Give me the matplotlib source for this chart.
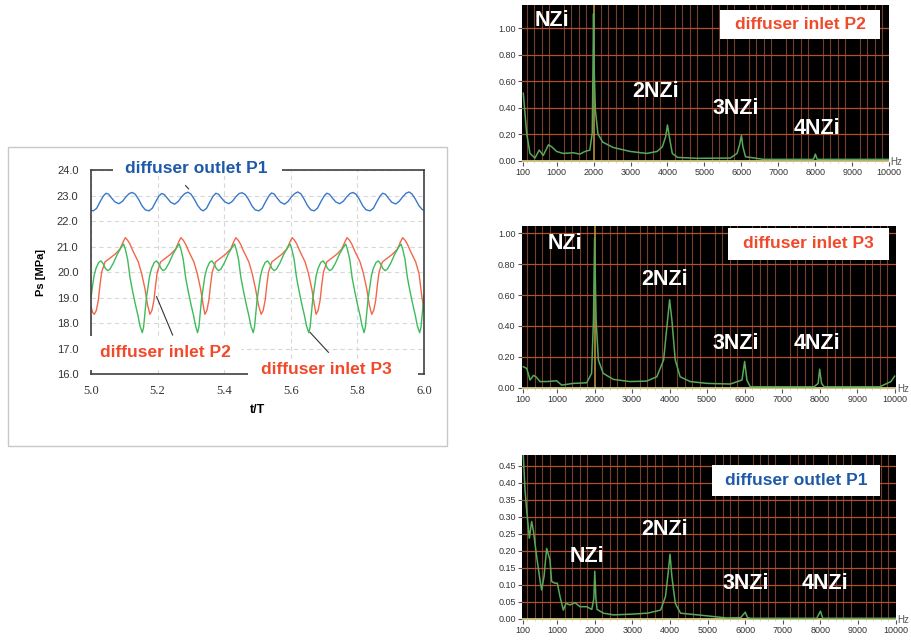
import matplotlib.pyplot as plt
from matplotlib.patches import Rectangle

plt.rcParams['font.family'] = ['Liberation Sans', 'DejaVu Sans']

# ---- pressure history (t/T, Ps in MPa) ----
t_p1 = [5.000, 5.007, 5.017, 5.027, 5.037, 5.045, 5.053, 5.062, 5.072, 5.084, 5.095, 5.105,
        5.115, 5.124, 5.133, 5.143, 5.153, 5.163,
        5.174, 5.184, 5.194, 5.204, 5.212, 5.220, 5.229, 5.239, 5.251, 5.262, 5.272,
        5.282, 5.291, 5.300, 5.310, 5.320, 5.330,
        5.337, 5.347, 5.357, 5.367, 5.375, 5.383, 5.392, 5.402, 5.414, 5.425, 5.435,
        5.445, 5.454, 5.463, 5.473, 5.483, 5.493,
        5.504, 5.514, 5.524, 5.534, 5.542, 5.550, 5.559, 5.569, 5.581, 5.592, 5.602,
        5.612, 5.621, 5.630, 5.640, 5.650, 5.660,
        5.670, 5.680, 5.690, 5.700, 5.708, 5.716, 5.725, 5.735, 5.747, 5.758, 5.768,
        5.778, 5.787, 5.796, 5.806, 5.816, 5.826,
        5.838, 5.848, 5.858, 5.868, 5.876, 5.884, 5.893, 5.903, 5.915, 5.926, 5.936,
        5.946, 5.955, 5.964, 5.974, 5.984, 5.994, 6.000]
ps_p1 = [22.42, 22.40, 22.50, 22.75, 22.98, 23.09, 23.05, 22.90, 22.75, 22.68, 22.78, 22.95,
         23.08, 23.12, 23.05, 22.85, 22.60, 22.44,
         22.40, 22.50, 22.75, 22.98, 23.08, 23.04, 22.90, 22.74, 22.66, 22.77, 22.95,
         23.08, 23.13, 23.06, 22.86, 22.62, 22.45,
         22.40, 22.50, 22.75, 22.98, 23.09, 23.05, 22.90, 22.75, 22.68, 22.78, 22.95,
         23.08, 23.11, 23.04, 22.85, 22.60, 22.44,
         22.40, 22.50, 22.75, 22.98, 23.10, 23.06, 22.90, 22.74, 22.66, 22.77, 22.95,
         23.08, 23.14, 23.07, 22.86, 22.61, 22.44,
         22.40, 22.50, 22.75, 22.98, 23.09, 23.05, 22.90, 22.75, 22.68, 22.78, 22.95,
         23.08, 23.12, 23.05, 22.85, 22.60, 22.44,
         22.40, 22.50, 22.75, 22.98, 23.09, 23.05, 22.90, 22.74, 22.67, 22.78, 22.95,
         23.09, 23.14, 23.06, 22.86, 22.62, 22.46, 22.42]

t_p2 = [5.000, 5.005,
        5.010, 5.016, 5.022, 5.027, 5.032, 5.042, 5.057, 5.072, 5.087, 5.097, 5.103, 5.110,
        5.117, 5.127, 5.142, 5.152, 5.162, 5.170,
        5.177, 5.183, 5.189, 5.194, 5.199, 5.209, 5.224, 5.239, 5.254, 5.264, 5.270, 5.277,
        5.284, 5.294, 5.309, 5.319, 5.329, 5.337,
        5.342, 5.348, 5.354, 5.359, 5.364, 5.374, 5.389, 5.404, 5.419, 5.429, 5.435, 5.442,
        5.449, 5.459, 5.474, 5.484, 5.494, 5.503,
        5.511, 5.517, 5.523, 5.528, 5.533, 5.543, 5.558, 5.573, 5.588, 5.598, 5.604, 5.611,
        5.618, 5.628, 5.643, 5.653, 5.663, 5.671,
        5.676, 5.682, 5.688, 5.693, 5.698, 5.708, 5.723, 5.738, 5.753, 5.763, 5.769, 5.776,
        5.783, 5.793, 5.808, 5.818, 5.828, 5.836,
        5.843, 5.849, 5.855, 5.860, 5.865, 5.875, 5.890, 5.905, 5.920, 5.930, 5.936, 5.943,
        5.950, 5.960, 5.975, 5.985, 5.993, 6.000]
ps_p2 = [18.65, 18.42,
         18.35, 18.50, 18.90, 19.50, 20.00, 20.40, 20.55, 20.70, 20.90, 21.20, 21.35, 21.25,
         21.10, 20.80, 20.40, 19.95, 19.35, 18.70,
         18.35, 18.50, 18.90, 19.50, 20.00, 20.40, 20.55, 20.70, 20.90, 21.20, 21.35, 21.25,
         21.10, 20.80, 20.40, 19.95, 19.35, 18.70,
         18.35, 18.50, 18.90, 19.50, 20.00, 20.40, 20.55, 20.70, 20.90, 21.20, 21.35, 21.25,
         21.10, 20.80, 20.40, 19.95, 19.35, 18.70,
         18.35, 18.50, 18.90, 19.50, 20.00, 20.40, 20.55, 20.70, 20.90, 21.20, 21.35, 21.25,
         21.10, 20.80, 20.40, 19.95, 19.35, 18.70,
         18.35, 18.50, 18.90, 19.50, 20.00, 20.40, 20.55, 20.70, 20.90, 21.20, 21.35, 21.25,
         21.10, 20.80, 20.40, 19.95, 19.35, 18.70,
         18.35, 18.50, 18.90, 19.50, 20.00, 20.40, 20.55, 20.70, 20.90, 21.20, 21.35, 21.25,
         21.10, 20.80, 20.40, 19.95, 19.10, 18.45]

t_p3 = [5.000, 5.004, 5.009, 5.015, 5.023, 5.030, 5.037, 5.043, 5.050, 5.057, 5.067, 5.079,
        5.091, 5.098, 5.103, 5.110, 5.117, 5.125, 5.133, 5.141, 5.147,
        5.154, 5.158, 5.162, 5.166, 5.171, 5.176, 5.182, 5.190, 5.197, 5.204, 5.210, 5.217,
        5.224, 5.234, 5.246, 5.258, 5.265, 5.270, 5.277, 5.284, 5.292, 5.300, 5.308, 5.314,
        5.320, 5.324, 5.328, 5.332, 5.337, 5.342, 5.348, 5.356, 5.363, 5.370, 5.376, 5.383,
        5.390, 5.400, 5.412, 5.424, 5.431, 5.436, 5.443, 5.450, 5.458, 5.466, 5.474, 5.480,
        5.487, 5.491, 5.495, 5.499, 5.504, 5.509, 5.515, 5.523, 5.530, 5.537, 5.543, 5.550,
        5.557, 5.567, 5.579, 5.591, 5.598, 5.603, 5.610, 5.617, 5.625, 5.633, 5.641, 5.647,
        5.654, 5.658, 5.662, 5.666, 5.671, 5.676, 5.682, 5.690, 5.697, 5.704, 5.710, 5.717,
        5.724, 5.734, 5.746, 5.758, 5.765, 5.770, 5.777, 5.784, 5.792, 5.800, 5.808, 5.814,
        5.820, 5.824, 5.828, 5.832, 5.837, 5.842, 5.848, 5.856, 5.863, 5.870, 5.876, 5.883,
        5.890, 5.900, 5.912, 5.924, 5.931, 5.936, 5.943, 5.950, 5.958, 5.966, 5.974, 5.980,
        5.987, 5.991, 5.995, 6.000]
ps_p3 = [19.00, 19.40, 19.85, 20.15, 20.38, 20.44, 20.32, 20.15, 20.06, 20.12, 20.35, 20.70,
         20.98, 21.10, 20.90, 20.50, 19.80, 19.25, 18.75, 18.30, 17.90,
         17.63, 17.85, 18.40, 18.95, 19.40, 19.85, 20.15, 20.38, 20.44, 20.32, 20.15, 20.06,
         20.12, 20.35, 20.70, 20.98, 21.10, 20.90, 20.50, 19.80, 19.25, 18.75, 18.30, 17.90,
         17.63, 17.85, 18.40, 18.95, 19.40, 19.85, 20.15, 20.38, 20.44, 20.32, 20.15, 20.06,
         20.12, 20.35, 20.70, 20.98, 21.10, 20.90, 20.50, 19.80, 19.25, 18.75, 18.30, 17.90,
         17.63, 17.85, 18.40, 18.95, 19.40, 19.85, 20.15, 20.38, 20.44, 20.32, 20.15, 20.06,
         20.12, 20.35, 20.70, 20.98, 21.10, 20.90, 20.50, 19.80, 19.25, 18.75, 18.30, 17.90,
         17.63, 17.85, 18.40, 18.95, 19.40, 19.85, 20.15, 20.38, 20.44, 20.32, 20.15, 20.06,
         20.12, 20.35, 20.70, 20.98, 21.10, 20.90, 20.50, 19.80, 19.25, 18.75, 18.30, 17.90,
         17.63, 17.85, 18.40, 18.95, 19.40, 19.85, 20.15, 20.38, 20.44, 20.32, 20.15, 20.06,
         20.12, 20.35, 20.70, 20.98, 21.10, 20.90, 20.50, 19.80, 19.25, 18.75, 18.30, 17.90,
         17.63, 17.85, 18.40, 19.10]

# ---- spectra (Hz, amplitude) ----
hz_p2 = [100, 190, 280, 415, 530, 640, 780, 870, 1000, 1180, 1450, 1630, 1770, 1900, 1965,
         1985, 2000, 2015, 2050, 2120, 2250, 2530, 2990, 3440, 3720, 3860, 3950, 4000, 4050,
         4130, 4270, 4800, 5700, 5880, 5950, 6000, 6040, 6110, 6600, 7950, 8000, 8050, 10000]
amp_p2 = [0.51, 0.21, 0.055, 0.02, 0.08, 0.04, 0.12, 0.105, 0.07, 0.055, 0.06, 0.05, 0.07,
          0.08, 0.21, 0.71, 1.11, 0.71, 0.38, 0.20, 0.14, 0.10, 0.07, 0.055, 0.07, 0.105,
          0.18, 0.27, 0.18, 0.055, 0.025, 0.018, 0.02, 0.055, 0.12, 0.19, 0.105, 0.03, 0.01,
          0.01, 0.05, 0.01, 0.01]

hz_p3 = [100, 190, 280, 370, 440, 545, 720, 990, 1120, 1430, 1790, 1920, 1970, 2000, 2040,
         2100, 2230, 2500, 2940, 3390, 3660, 3840, 3930, 4000, 4060, 4150, 4280, 4550, 5000,
         5620, 5930, 6000, 6060, 6150, 7850, 7960, 8000, 8050, 8120, 9600, 9900, 10000]
amp_p3 = [0.136, 0.125, 0.05, 0.08, 0.07, 0.04, 0.04, 0.045, 0.017, 0.028, 0.032, 0.093,
          0.44, 0.97, 0.44, 0.18, 0.093, 0.054, 0.04, 0.043, 0.071, 0.18, 0.40, 0.57, 0.44,
          0.18, 0.071, 0.04, 0.028, 0.024, 0.05, 0.17, 0.05, 0.006, 0.006, 0.028, 0.12,
          0.028, 0.006, 0.006, 0.04, 0.075]

hz_p1 = [100, 144, 189, 260, 322, 366, 455, 543, 587, 650, 720, 809, 853, 942, 1004, 1075,
         1164, 1234, 1340, 1474, 1607, 1784, 1920, 1975, 2000, 2030, 2060, 2230, 2500, 2950,
         3400, 3750, 3880, 3950, 4000, 4050, 4140, 4280, 5000, 5500, 5880, 6000, 6060, 6150,
         7900, 8000, 8060, 10000]
amp_p1 = [0.48, 0.38, 0.32, 0.237, 0.286, 0.26, 0.183, 0.114, 0.085, 0.124, 0.207, 0.173,
          0.11, 0.105, 0.105, 0.066, 0.026, 0.046, 0.041, 0.048, 0.036, 0.036, 0.028, 0.06,
          0.14, 0.06, 0.028, 0.017, 0.012, 0.014, 0.017, 0.026, 0.066, 0.134, 0.19, 0.124,
          0.046, 0.017, 0.009, 0.003, 0.004, 0.02, 0.004, 0.002, 0.002, 0.023, 0.002, 0.002]

hz_ticks = [100, 1000, 2000, 3000, 4000, 5000, 6000, 7000, 8000, 9000, 10000]

BLUE = '#1f5aa8'
RED = '#f04a2a'
W, H = 911, 641


def rect(x0, y0, x1, y1):
    return [x0 / W, 1 - y1 / H, (x1 - x0) / W, (y1 - y0) / H]


fig = plt.figure(figsize=(W / 100, H / 100), dpi=100)
fig.patch.set_facecolor('white')

# frame around the left plot
fig.add_artist(Rectangle((8 / W, 1 - 446 / H), 439 / W, 299 / H, transform=fig.transFigure,
                         fill=False, ec='#c8c8c8', lw=1))

ax = fig.add_axes(rect(91, 170, 424, 374.3))
ax.plot(t_p1, ps_p1, color='#3a78c8', lw=1.0)
ax.plot(t_p2, ps_p2, color='#f2674a', lw=1.0)
ax.plot(t_p3, ps_p3, color='#3dbb5a', lw=1.0)
ax.set_xlim(5.0, 6.0)
ax.set_ylim(16.0, 24.0)
ax.set_xticks([5.0, 5.2, 5.4, 5.6, 5.8, 6.0])
ax.set_yticks([16, 17, 18, 19, 20, 21, 22, 23, 24])
ax.set_yticklabels(['%.1f' % v for v in ax.get_yticks()])
ax.set_xticklabels(['%.1f' % v for v in ax.get_xticks()], family='Liberation Serif', fontsize=9)
ax.tick_params(axis='y', length=0, pad=9, labelsize=8, colors='#333333')
ax.tick_params(axis='x', length=0, pad=8, colors='#333333')
ax.grid(True, ls=(0, (4, 3)), color='#d8d8d8', lw=0.8)
for s in ax.spines.values():
    s.set_color('#404040')
    s.set_linewidth(1.2)
ax.set_xlabel('t/T', fontweight='bold', fontsize=9, labelpad=5)
ax.set_ylabel('Ps [MPa]', fontweight='bold', fontsize=8, labelpad=8)

# white patches behind the labels cut the frame like in the original
for x0, x1, y0, y1 in [(5.066, 5.574, 23.75, 24.35), (4.97, 5.45, 16.17, 17.5),
                       (5.471, 5.982, 15.6, 16.6)]:
    ax.add_patch(Rectangle((x0, y0), x1 - x0, y1 - y0, fc='white', ec='none',
                           clip_on=False, zorder=4))
ax.text(5.317, 24.04, 'diffuser outlet P1', color=BLUE, fontsize=12.5, fontweight='bold',
        ha='center', va='center', zorder=5)
ax.text(5.225, 16.87, 'diffuser inlet P2', color=RED, fontsize=12.5, fontweight='bold',
        ha='center', va='center', zorder=5)
ax.text(5.706, 16.17, 'diffuser inlet P3', color=RED, fontsize=12.5, fontweight='bold',
        ha='center', va='center', zorder=5)
ax.plot([5.284, 5.293], [23.39, 23.26], color='#333333', lw=0.8)
ax.plot([5.197, 5.245], [19.04, 17.54], color='#333333', lw=0.8, clip_on=False)
ax.plot([5.658, 5.713], [17.64, 16.86], color='#333333', lw=0.8, clip_on=False, zorder=6)


def spectrum(box, xlim, ylim, yticks, hz, amp, cursor):
    sx = fig.add_axes(rect(*box))
    sx.set_facecolor('black')
    sx.set_xlim(*xlim)
    sx.set_ylim(*ylim)
    sx.set_xticks(hz_ticks)
    sx.set_xticks(list(range(200, 10001, 200)), minor=True)
    sx.set_yticks(yticks)
    sx.set_yticklabels(['%.2f' % v for v in yticks])
    sx.grid(True, which='minor', axis='x', color='#74402a', lw=0.8)
    sx.grid(True, which='major', axis='y', color='#b0502e', lw=0.9)
    for s in sx.spines.values():
        s.set_visible(False)
    sx.tick_params(axis='both', which='major', labelsize=6.5, colors='#555555',
                   labelcolor='#333333', length=3, width=0.8, pad=1.5)
    sx.tick_params(axis='x', which='minor', length=2, color='#d8d890', direction='inout')
    if cursor:
        sx.axvline(2000, color='#c89a40', lw=1.1, zorder=2)
    sx.axhline(0, color='#d8d890', lw=1.2, zorder=2)
    sx.plot(hz, amp, color='#5aa85a', lw=1.1, zorder=3)
    sx.text(1.003, 0.0, 'Hz', transform=sx.transAxes, fontsize=7, color='#555555',
            va='center', ha='left', clip_on=False)
    return sx


spectrum((522.3, 5, 889.3, 161.7), (73, 10000), (-0.0075, 1.176),
         [0.0, 0.2, 0.4, 0.6, 0.8, 1.0], hz_p2, amp_p2, True)
spectrum((521.7, 226, 896.0, 388.5), (57, 10035), (-0.005, 1.047),
         [0.0, 0.2, 0.4, 0.6, 0.8, 1.0], hz_p3, amp_p3, True)
spectrum((522.3, 455, 895.7, 620), (73, 10000), (-0.003, 0.481),
         [0.0, 0.05, 0.10, 0.15, 0.20, 0.25, 0.30, 0.35, 0.40, 0.45], hz_p1, amp_p1, False)

# legend boxes on the spectra
for (x0, y0, x1, y1), label, col in [((720, 10, 880, 39), 'diffuser inlet P2', RED),
                                      ((728, 228, 889, 260), 'diffuser inlet P3', RED),
                                      ((712, 465, 880, 496), 'diffuser outlet P1', BLUE)]:
    fig.add_artist(Rectangle((x0 / W, 1 - y1 / H), (x1 - x0) / W, (y1 - y0) / H,
                             transform=fig.transFigure, fc='white', ec='none', zorder=5))
    fig.text((x0 + x1) / 2 / W, 1 - (y0 + y1) / 2 / H, label, color=col, fontsize=12.5,
             fontweight='bold', ha='center', va='center', zorder=6)

# harmonic labels
for x, y, s in [(551.7, 20.7, 'NZi'), (656, 91.7, '2NZi'), (736, 108.3, '3NZi'),
                (816.7, 128.3, '4NZi'),
                (565, 243.3, 'NZi'), (665, 279.3, '2NZi'), (736, 343.3, '3NZi'),
                (816.7, 343.3, '4NZi'),
                (586.7, 556, 'NZi'), (665, 529.3, '2NZi'), (746, 583.3, '3NZi'),
                (825, 583.3, '4NZi')]:
    fig.text(x / W, 1 - y / H, s, color='white', fontsize=15.5, fontweight='bold',
             ha='center', va='center', zorder=6)

fig.savefig('out.png', dpi=100)
